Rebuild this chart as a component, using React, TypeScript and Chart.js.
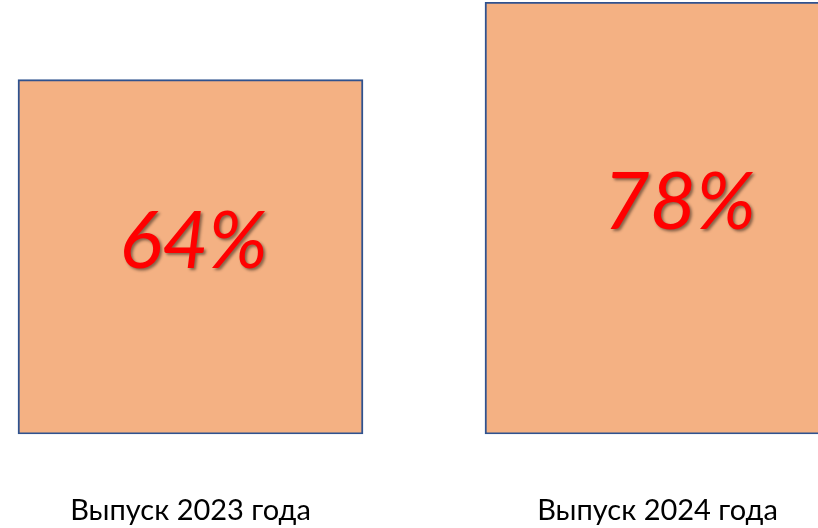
import React, { useEffect, useRef } from "react";
import { Chart, registerables } from "chart.js";

Chart.register(...registerables);

const categories = ["Выпуск 2023 года", "Выпуск 2024 года"];
const values = [64, 78];
const valueLabels = ["64%", "78%"];
const labelShiftX = [3, 22];

const valueLabelPlugin = {
  id: "valueLabels",
  afterDatasetsDraw(chart: any) {
    const ctx = chart.ctx;
    const meta = chart.getDatasetMeta(0);
    ctx.save();
    ctx.font = "italic 80px Lato, 'Open Sans', sans-serif";
    ctx.fillStyle = "#FF0000";
    ctx.textAlign = "center";
    ctx.textBaseline = "middle";
    ctx.shadowColor = "rgba(0,0,0,0.45)";
    ctx.shadowOffsetX = 2;
    ctx.shadowOffsetY = 2;
    ctx.shadowBlur = 3;
    meta.data.forEach((bar: any, i: number) => {
      const cy = (bar.y + bar.base) / 2 - 15;
      ctx.fillText(valueLabels[i], bar.x + labelShiftX[i], cy);
    });
    ctx.restore();
  },
};

export default function App() {
  const ref = useRef<HTMLCanvasElement | null>(null);
  useEffect(() => {
    if (!ref.current) return;
    const chart = new Chart(ref.current, {
      type: "bar",
      data: {
        labels: categories,
        datasets: [
          {
            data: values,
            backgroundColor: "#F4B183",
            borderColor: "#2F528F",
            borderWidth: 2,
            borderSkipped: false,
            barThickness: 345,
          },
        ],
      },
      options: {
        responsive: false,
        animation: false,
        layout: { padding: 0 },
        plugins: { legend: { display: false }, tooltip: { enabled: false } },
        scales: {
          y: { display: false, min: 0, max: 78 },
          x: {
            grid: { display: false },
            border: { display: false },
            ticks: {
              padding: 51,
              color: "#000000",
              font: { family: "Lato, 'Open Sans', sans-serif", size: 29 },
            },
          },
        },
      },
      plugins: [valueLabelPlugin],
    });
    return () => chart.destroy();
  }, []);
  return (
    <div
      style={{
        position: "fixed",
        left: 0,
        top: 0,
        width: 818,
        height: 528,
        overflow: "hidden",
        background: "#ffffff",
      }}
    >
      <canvas
        ref={ref}
        width={934}
        height={577}
        style={{ position: "absolute", left: -43, top: 2, width: 934, height: 577 }}
      />
    </div>
  );
}
